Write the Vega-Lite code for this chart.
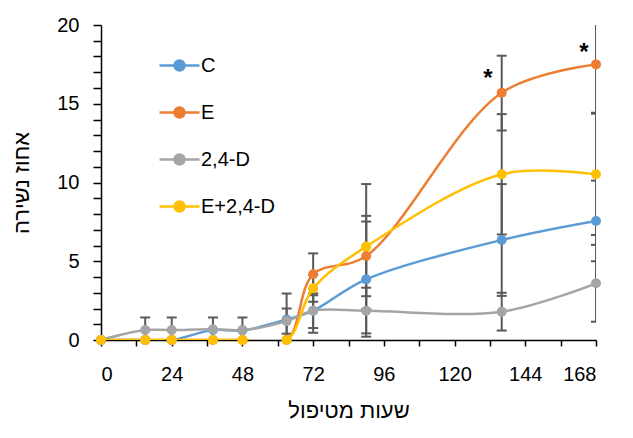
{
  "$schema": "https://vega.github.io/schema/vega-lite/v6.json",
  "autosize": "none",
  "width": 495,
  "height": 315,
  "padding": {"left": 101, "top": 25, "right": 37, "bottom": 98},
  "background": "white",
  "config": {
    "view": {"stroke": null},
    "font": "Liberation Sans",
    "axis": {"grid": false, "domainColor": "#000", "domainWidth": 1.5, "tickColor": "#000", "tickWidth": 1.5, "labelColor": "#000", "labelFontSize": 20, "titleColor": "#000", "titleFontSize": 22, "titleFontWeight": "normal", "labelFont": "Liberation Sans", "titleFont": "Liberation Sans", "labelOverlap": false}
  },
  "datasets": {
    "main": [
      {"s": "C", "h": 0, "v": 0}, {"s": "C", "h": 15, "v": 0}, {"s": "C", "h": 24, "v": 0}, {"s": "C", "h": 38, "v": 0.63}, {"s": "C", "h": 48, "v": 0.6}, {"s": "C", "h": 63, "v": 1.3}, {"s": "C", "h": 72, "v": 1.86}, {"s": "C", "h": 90, "v": 3.85}, {"s": "C", "h": 136, "v": 6.35}, {"s": "C", "h": 168, "v": 7.56},
      {"s": "E", "h": 0, "v": 0}, {"s": "E", "h": 15, "v": 0}, {"s": "E", "h": 24, "v": 0}, {"s": "E", "h": 38, "v": 0}, {"s": "E", "h": 48, "v": 0}, {"s": "E", "h": 63, "v": 0}, {"s": "E", "h": 72, "v": 4.17}, {"s": "E", "h": 90, "v": 5.33}, {"s": "E", "h": 136, "v": 15.7}, {"s": "E", "h": 168, "v": 17.5},
      {"s": "2,4-D", "h": 0, "v": 0}, {"s": "2,4-D", "h": 15, "v": 0.63}, {"s": "2,4-D", "h": 24, "v": 0.63}, {"s": "2,4-D", "h": 38, "v": 0.68}, {"s": "2,4-D", "h": 48, "v": 0.63}, {"s": "2,4-D", "h": 63, "v": 1.2}, {"s": "2,4-D", "h": 72, "v": 1.86}, {"s": "2,4-D", "h": 90, "v": 1.86}, {"s": "2,4-D", "h": 136, "v": 1.8}, {"s": "2,4-D", "h": 168, "v": 3.6},
      {"s": "E+2,4-D", "h": 0, "v": 0}, {"s": "E+2,4-D", "h": 15, "v": 0}, {"s": "E+2,4-D", "h": 24, "v": 0}, {"s": "E+2,4-D", "h": 38, "v": 0}, {"s": "E+2,4-D", "h": 48, "v": 0}, {"s": "E+2,4-D", "h": 63, "v": 0}, {"s": "E+2,4-D", "h": 72, "v": 3.28}, {"s": "E+2,4-D", "h": 90, "v": 5.93}, {"s": "E+2,4-D", "h": 136, "v": 10.52}, {"s": "E+2,4-D", "h": 168, "v": 10.52}
    ],
    "err": [
      {"s": "2,4-D", "h": 15, "lo": -0.17, "hi": 1.43},
      {"s": "2,4-D", "h": 24, "lo": -0.17, "hi": 1.43},
      {"s": "2,4-D", "h": 38, "lo": -0.07, "hi": 1.43},
      {"s": "2,4-D", "h": 48, "lo": -0.17, "hi": 1.43},
      {"s": "C", "h": 63, "lo": -0.35, "hi": 2.95},
      {"s": "2,4-D", "h": 63, "lo": 0.4, "hi": 2.0},
      {"s": "C", "h": 72, "lo": 0.46, "hi": 3.26},
      {"s": "E", "h": 72, "lo": 2.84, "hi": 5.5},
      {"s": "2,4-D", "h": 72, "lo": 0.76, "hi": 2.96},
      {"s": "E+2,4-D", "h": 72, "lo": 2.43, "hi": 4.13},
      {"s": "C", "h": 90, "lo": 0.21, "hi": 7.52},
      {"s": "E", "h": 90, "lo": 2.78, "hi": 7.88},
      {"s": "2,4-D", "h": 90, "lo": 0.42, "hi": 3.32},
      {"s": "E+2,4-D", "h": 90, "lo": 1.96, "hi": 9.9},
      {"s": "C", "h": 136, "lo": 2.8, "hi": 9.9},
      {"s": "E", "h": 136, "lo": 13.3, "hi": 18.05},
      {"s": "2,4-D", "h": 136, "lo": 0.6, "hi": 3.0},
      {"s": "E+2,4-D", "h": 136, "lo": 6.7, "hi": 14.34},
      {"s": "C", "h": 168, "lo": 5.0, "hi": 10.12},
      {"s": "E", "h": 168, "lo": 14.43, "hi": 20.57},
      {"s": "2,4-D", "h": 168, "lo": 1.16, "hi": 6.04},
      {"s": "E+2,4-D", "h": 168, "lo": 6.67, "hi": 14.37}
    ],
    "stars": [
      {"h": 131.3, "v": 16.95, "t": "*"},
      {"h": 163.9, "v": 18.6, "t": "*"}
    ]
  },
  "encoding": {
    "x": {"field": "h", "type": "quantitative", "scale": {"domain": [0, 168], "nice": false, "zero": false},
      "axis": {"values": [0, 12, 24, 36, 48, 60, 72, 84, 96, 108, 120, 132, 144, 156, 168], "tickCount": 30, "format": "d", "labelExpr": "datum.value % 24 == 0 ? datum.label : ''", "labelOverlap": false, "title": "שעות מטיפול", "titlePadding": 16, "labelPadding": 18, "tickSize": 6}}
  },
  "layer": [
    {
      "data": {"name": "err"},
      "mark": {"type": "rule", "color": "#595959", "strokeWidth": 2, "clip": true},
      "encoding": {
        "y": {"field": "lo", "type": "quantitative", "scale": {"domain": [0, 20], "nice": false},
          "axis": {"values": [0,1,2,3,4,5,6,7,8,9,10,11,12,13,14,15,16,17,18,19,20], "tickCount": 40, "format": "d", "labelExpr": "datum.value % 5 == 0 ? datum.label : ''", "labelOverlap": false, "title": "אחוז נשירה", "titlePadding": 23, "labelPadding": 14, "tickSize": 8}},
        "y2": {"field": "hi"}
      }
    },
    {
      "data": {"name": "err"},
      "mark": {"type": "point", "shape": "M-1,0L1,0", "size": 100, "filled": false, "strokeWidth": 2, "color": "#595959", "opacity": 1, "clip": true},
      "encoding": {
        "y": {"field": "lo", "type": "quantitative"}
      }
    },
    {
      "data": {"name": "err"},
      "mark": {"type": "point", "shape": "M-1,0L1,0", "size": 100, "filled": false, "strokeWidth": 2, "color": "#595959", "opacity": 1, "clip": true},
      "encoding": {
        "y": {"field": "hi", "type": "quantitative"}
      }
    },
    {
      "data": {"name": "main"},
      "mark": {"type": "line", "interpolate": "catmull-rom", "strokeWidth": 2.5, "clip": true},
      "encoding": {
        "y": {"field": "v", "type": "quantitative"},
        "color": {"field": "s", "type": "nominal",
          "scale": {"domain": ["C", "E", "2,4-D", "E+2,4-D"], "range": ["#5B9BD5", "#ED7D31", "#A5A5A5", "#FFC000"]},
          "legend": {"title": null, "orient": "none", "legendX": 57, "legendY": 19, "labelFontSize": 20, "labelColor": "#000", "labelFont": "Liberation Sans",
            "symbolType": "M-1,0L1,0M-0.25,0A0.25,0.25,0,1,0,0.25,0A0.25,0.25,0,1,0,-0.25,0Z", "symbolSize": 1600, "symbolStrokeWidth": 2.5, "rowPadding": 15, "labelOffset": 0,
            "encode": {"symbols": {"update": {"fill": {"scale": "color", "field": "value"}, "stroke": {"scale": "color", "field": "value"}, "fillOpacity": {"value": 1}}}}}
        }
      }
    },
    {
      "data": {"name": "main"},
      "mark": {"type": "point", "filled": true, "size": 100, "opacity": 1},
      "encoding": {
        "y": {"field": "v", "type": "quantitative"},
        "color": {"field": "s", "type": "nominal", "legend": null}
      }
    },
    {
      "data": {"name": "stars"},
      "mark": {"type": "text", "fontSize": 24, "fontWeight": "bold", "color": "#000", "baseline": "middle", "dy": 6},
      "encoding": {
        "y": {"field": "v", "type": "quantitative"},
        "text": {"field": "t"}
      }
    }
  ]
}
